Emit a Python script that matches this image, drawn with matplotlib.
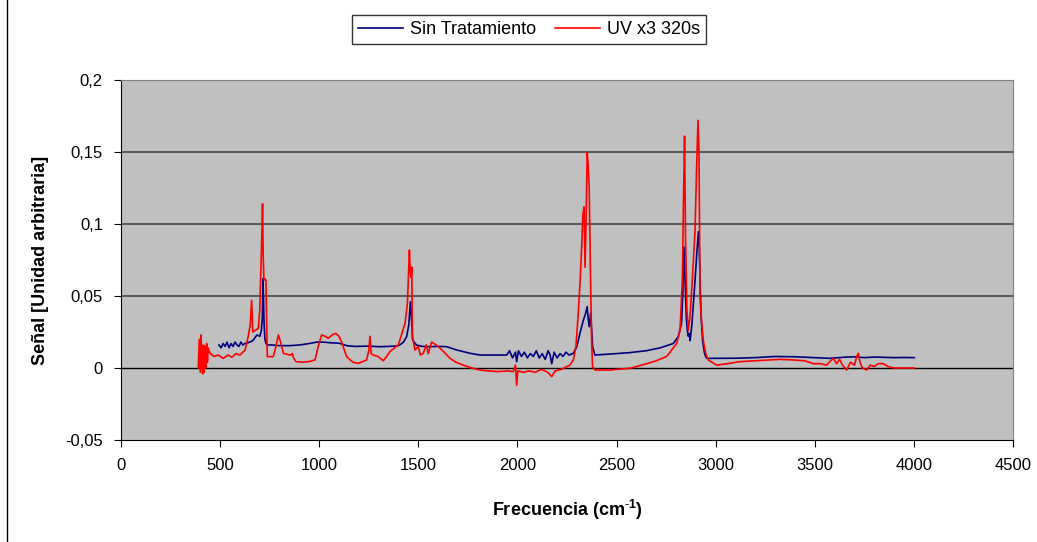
import matplotlib
matplotlib.use('Agg')
import matplotlib.pyplot as plt
from matplotlib.lines import Line2D
from matplotlib.ticker import FuncFormatter

plt.rcParams['font.family'] = ['Liberation Sans', 'DejaVu Sans']
plt.rcParams['axes.unicode_minus'] = False
plt.rcParams['mathtext.fontset'] = 'custom'
plt.rcParams['mathtext.bf'] = 'Liberation Sans:bold'
plt.rcParams['mathtext.rm'] = 'Liberation Sans'

# Sin Tratamiento (azul)
blue_x = [494, 505, 515, 525, 535, 545, 555, 565, 575, 585, 595, 605, 615, 625, 636, 650, 665, 686,
          700, 708, 713, 716, 719, 722, 726, 732, 737, 760, 800, 850, 900, 950, 988, 1019, 1060,
          1100, 1140, 1180, 1250, 1300, 1350, 1391, 1407, 1425, 1441, 1452, 1460, 1465, 1471,
          1490, 1520, 1559, 1600, 1643, 1694, 1761, 1811, 1870, 1946, 1960, 1975, 1990, 1996,
          2005, 2020, 2035, 2050, 2065, 2080, 2095, 2110, 2125, 2140, 2155, 2165, 2173, 2185,
          2200, 2215, 2230, 2245, 2260, 2282, 2300, 2315, 2332, 2342, 2352, 2357, 2362, 2369,
          2375, 2379, 2391, 2450, 2500, 2568, 2650, 2720, 2786, 2811, 2828, 2835, 2840, 2846,
          2852, 2857, 2862, 2867, 2871, 2880, 2888, 2896, 2905, 2913, 2917, 2921, 2927, 2934,
          2944, 2954, 3000, 3100, 3200, 3300, 3400, 3500, 3577, 3650, 3700, 3750, 3800, 3850,
          3900, 3950, 4002]
blue_y = [0.016, 0.014, 0.017, 0.015, 0.018, 0.014, 0.017, 0.015, 0.018, 0.016, 0.015, 0.018, 0.016,
          0.017, 0.0174, 0.018, 0.019, 0.023, 0.022, 0.026, 0.035, 0.062, 0.048, 0.030, 0.020,
          0.017, 0.016, 0.016, 0.0155, 0.0155, 0.016, 0.017, 0.018, 0.018, 0.0175, 0.0172, 0.0155,
          0.015, 0.0152, 0.0148, 0.015, 0.0153, 0.016, 0.018, 0.0218, 0.030, 0.046, 0.036, 0.0195,
          0.016, 0.015, 0.0148, 0.015, 0.0148, 0.0125, 0.0102, 0.009, 0.009, 0.009, 0.012, 0.007,
          0.011, 0.0044, 0.012, 0.008, 0.011, 0.007, 0.010, 0.008, 0.012, 0.007, 0.010, 0.006, 0.012,
          0.009, 0.003, 0.011, 0.007, 0.010, 0.008, 0.011, 0.009, 0.0102, 0.015, 0.024, 0.033,
          0.037, 0.0426, 0.034, 0.0287, 0.038, 0.025, 0.0148, 0.009, 0.0095, 0.010, 0.0107, 0.012,
          0.014, 0.017, 0.0218, 0.031, 0.055, 0.084, 0.060, 0.035, 0.026, 0.022, 0.024, 0.019,
          0.030, 0.045, 0.061, 0.080, 0.0947, 0.085, 0.061, 0.035, 0.019, 0.010, 0.0067, 0.0067,
          0.0068, 0.0072, 0.008, 0.0078, 0.0072, 0.0067, 0.0075, 0.0078, 0.0072, 0.0076, 0.0074,
          0.0072, 0.0073, 0.0072]

# UV x3 320s (rojo)
red_x = [390, 395, 400, 404, 408, 412, 416, 420, 424, 428, 432, 436, 440, 449, 470, 490, 516, 540,
         560, 580, 600, 615, 626, 642, 652, 659, 665, 676, 693, 700, 706, 711, 714, 717, 721, 726,
         731, 735, 738, 768, 780, 794, 805, 819, 853, 865, 870, 883, 920, 950, 979, 995, 1012,
         1030, 1046, 1065, 1084, 1100, 1113, 1138, 1170, 1197, 1239, 1250, 1256, 1262, 1273,
         1298, 1323, 1340, 1357, 1399, 1433, 1445, 1455, 1459, 1463, 1467, 1470, 1483, 1500,
         1510, 1525, 1540, 1550, 1567, 1590, 1610, 1630, 1660, 1690, 1727, 1770, 1811, 1850,
         1900, 1950, 1979, 1990, 1996, 2002, 2030, 2060, 2090, 2120, 2147, 2160, 2173, 2190,
         2220, 2265, 2282, 2295, 2307, 2316, 2324, 2330, 2336, 2341, 2346, 2352, 2357, 2362,
         2369, 2374, 2379, 2391, 2467, 2568, 2652, 2700, 2753, 2803, 2820, 2832, 2838, 2843,
         2848, 2855, 2862, 2870, 2879, 2888, 2896, 2904, 2911, 2916, 2921, 2930, 2938, 2950,
         2963, 3005, 3060, 3122, 3200, 3324, 3391, 3450, 3492, 3530, 3560, 3580, 3594, 3610,
         3625, 3640, 3661, 3680, 3700, 3712, 3720, 3728, 3740, 3762, 3780, 3800, 3820, 3846,
         3870, 3900, 3930, 3960, 4002]
red_y = [0.0, 0.020, -0.003, 0.023, 0.002, -0.004, 0.016, -0.003, 0.015, 0.000, 0.017, 0.004, 0.014,
         0.0102, 0.008, 0.009, 0.0067, 0.009, 0.0075, 0.010, 0.009, 0.011, 0.0125, 0.022, 0.030,
         0.047, 0.025, 0.026, 0.0275, 0.040, 0.070, 0.095, 0.114, 0.080, 0.061, 0.062, 0.061,
         0.030, 0.0079, 0.0079, 0.014, 0.023, 0.018, 0.0102, 0.009, 0.010, 0.007, 0.0044, 0.004,
         0.0045, 0.0056, 0.015, 0.023, 0.022, 0.0206, 0.023, 0.024, 0.022, 0.018, 0.0079, 0.004,
         0.0032, 0.0056, 0.012, 0.022, 0.010, 0.009, 0.0079, 0.005, 0.008, 0.0114, 0.016, 0.031,
         0.045, 0.082, 0.068, 0.063, 0.070, 0.022, 0.0125, 0.015, 0.009, 0.0102, 0.016, 0.010,
         0.018, 0.016, 0.0137, 0.011, 0.0067, 0.004, 0.002, 0.000, -0.0014, -0.002, -0.0025,
         -0.002, -0.0025, 0.002, -0.012, -0.002, -0.003, -0.002, -0.003, -0.001, -0.0025, -0.004,
         -0.006, -0.002, -0.001, 0.002, 0.0056, 0.015, 0.038, 0.060, 0.084, 0.106, 0.112, 0.070,
         0.100, 0.150, 0.140, 0.126, 0.061, 0.020, 0.001, -0.0014, -0.0014, -0.0002, 0.003, 0.005,
         0.008, 0.017, 0.026, 0.061, 0.120, 0.161, 0.090, 0.040, 0.026, 0.035, 0.054, 0.075,
         0.096, 0.140, 0.172, 0.150, 0.0495, 0.030, 0.019, 0.010, 0.0056, 0.002, 0.003, 0.0044,
         0.005, 0.006, 0.0056, 0.005, 0.003, 0.003, 0.002, 0.005, 0.0067, 0.003, 0.006, 0.002,
         -0.0014, 0.004, 0.002, 0.008, 0.0102, 0.004, 0.000, -0.0014, 0.002, 0.001, 0.003, 0.003,
         0.001, 0.000, 0.000, 0.000, 0.000]

fig = plt.figure(figsize=(10.37, 5.42), dpi=100)
ax = fig.add_axes([121 / 1037, 102 / 542, 892 / 1037, 360 / 542])
ax.set_facecolor('#C0C0C0')

ax.plot(blue_x, blue_y, color='#000080', lw=1.2, label='Sin Tratamiento')
ax.plot(red_x, red_y, color='#FF0000', lw=1.2, label='UV x3 320s')

ax.set_xlim(0, 4500)
ax.set_ylim(-0.05, 0.2)
ax.set_xticks(range(0, 4501, 500))
ax.set_yticks([-0.05, 0, 0.05, 0.1, 0.15, 0.2])
ax.yaxis.set_major_formatter(FuncFormatter(lambda v, p: ('%g' % round(v, 3)).replace('.', ',')))
ax.tick_params(direction='out', length=5, labelsize=12, pad=8)
for y in [0.05, 0.1, 0.15]:
    ax.axhline(y, color='#505050', lw=1.3, zorder=0.5)
ax.axhline(0, color='black', lw=1, zorder=0.5)

ax.spines['top'].set_color('#808080')
ax.spines['right'].set_color('#808080')
ax.spines['left'].set_color('black')
ax.spines['bottom'].set_color('black')

ax.set_xlabel('Frecuencia (cm$^{\\mathbf{\\text{-}1}}$)', fontsize=13, fontweight='bold', labelpad=18)
ax.set_ylabel('Señal [Unidad arbitraria]', fontsize=13, fontweight='bold', labelpad=12)

leg = fig.legend(loc='center', bbox_to_anchor=(529 / 1037, 1 - 29.5 / 542), ncol=2,
                 fontsize=13, frameon=True, fancybox=False, handlelength=2.5,
                 columnspacing=1.0, handletextpad=0.4, borderpad=0.35)
leg.get_frame().set_edgecolor('black')
leg.get_frame().set_linewidth(1)

fig.add_artist(Line2D([7 / 1037, 7 / 1037], [0, 1], transform=fig.transFigure, color='black', lw=1))

fig.savefig('out.png', dpi=100)
